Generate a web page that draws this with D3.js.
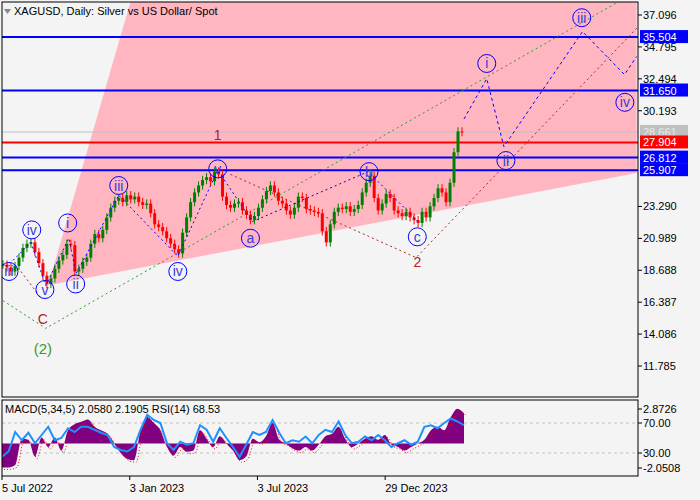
<!DOCTYPE html>
<html><head><meta charset="utf-8">
<script src="https://cdn.jsdelivr.net/npm/d3@7"></script>
<style>body{margin:0;background:#f4f4f4}svg{display:block;font-family:"Liberation Sans",Arial,sans-serif}</style>
</head><body><svg id="c" width="700" height="500"></svg>
<script>
// ---- data ----
const closes=[19.1,18.9,18.6,19.0,19.6,20.3,20.6,20.7,20.0,19.2,18.3,17.7,18.1,18.8,19.4,19.8,20.6,20.5,18.6,18.8,19.3,19.6,20.6,21.3,21.0,21.6,22.5,23.2,23.7,23.9,23.6,24.1,23.8,24.0,23.6,23.4,23.5,22.8,22.0,21.8,21.5,21.0,20.6,20.2,19.9,21.4,22.5,23.6,24.3,24.8,25.2,25.4,25.1,25.8,25.6,24.0,23.4,23.2,23.5,23.6,23.0,22.7,22.3,22.6,23.2,23.8,24.4,24.8,24.3,23.7,23.5,23.0,22.7,23.2,24.0,23.9,23.1,23.0,22.9,22.8,21.5,20.7,22.0,22.9,23.2,23.1,23.3,22.9,23.1,23.4,24.3,25.0,25.5,23.9,23.0,23.5,24.2,23.9,23.0,22.8,22.6,22.9,22.5,22.3,22.1,22.9,22.5,23.3,23.9,24.6,24.3,23.6,25.0,27.2,28.7,28.66];
const macd=[-2.0,-2.0,-1.8,0.4,0.3,-1.1,0.5,-0.3,0.5,-0.6,1.1,1.6,1.8,2.0,1.4,1.1,0.8,0,-0.8,-1.3,-1.4,1.1,2.2,1.7,1.1,-0.3,-1.0,-0.3,-0.7,-0.6,1.1,0.4,-0.3,0.6,0,-0.6,-1.4,-1.1,0.4,0.1,0.6,1.7,0.3,0,-0.4,-0.6,-0.3,-0.6,-0.1,0.6,0.8,1.4,0.4,-0.3,0,0.4,0.6,0.3,0.7,-0.1,-0.3,-0.6,-0.3,0,0.3,1.1,1.4,1.1,2.2,2.9,2.5];
const rsi=[25,32,58,47,57,43,54,65,47,50,63,58,65,65,61,57,54,38,34,32,38,61,81,74,70,43,34,45,41,43,67,61,45,63,50,38,25,41,58,54,58,74,57,43,47,45,52,43,54,61,58,72,54,43,45,52,47,54,47,38,43,47,41,45,65,67,63,70,76,72,67];
const priceTicks=[37.096,34.795,32.494,30.193,23.290,20.989,18.688,16.387,14.086,11.785];
const levels=[{v:35.504,c:"#0000ff",t:"35.504"},{v:31.650,c:"#0000ff",t:"31.650"},{v:28.661,c:"#c0c0c0",t:"28.661",g:1},{v:27.904,c:"#ff0000",t:"27.904"},{v:26.812,c:"#0000ff",t:"26.812"},{v:25.907,c:"#0000ff",t:"25.907"}];
const dateLabels=[{i:0,t:"5 Jul 2022"},{i:32,t:"3 Jan 2023"},{i:64,t:"3 Jul 2023"},{i:96,t:"29 Dec 2023"}];
const pinkZone=[[11.3,17.6],[32,38.1],[158.75,38.1],[158.75,25.7]];
const blueWave=[[2.5,19.4],[7,20.7],[10.7,17.6],[16.5,21.0],[18.3,18.45],[29,24.1],[43.8,19.7],[53.8,25.9],[62.5,22.2],[91.5,25.8],[104,22.2]];
const brownWave1=[[4.5,18.6],[9.5,16.7]];
const brownWave2=[[57,25.6],[103.5,19.6],[162,37.1]];
const greenWave=[[0,16.5],[10.7,14.5],[154.5,38.1]];
const forecast=[[115.5,29.6],[121.2,32.5],[125.5,27.6],[145.2,35.9],[155.7,32.8],[158.75,34.1]];
const circles=[[1.5,18.6,"iii"],[7.2,21.6,"iv"],[16.2,22.1,"i"],[10.5,17.3,"v"],[18.2,17.7,"ii"],[29,24.8,"iii"],[43.8,18.6,"iv"],[53.8,26.0,"v"],[62,21.0,"a"],[91.7,25.8,"b"],[103.8,21.1,"c"],[121.2,33.6,"i"],[126,26.6,"ii"],[145,36.9,"iii"],[155.8,30.8,"iv"]];
const brownLabels=[[53.8,28.1,"1"],[103.8,18.9,"2"],[10,14.8,"C"]];

// ---- scales ----
const svg=d3.select("#c");
const x=d3.scaleLinear().domain([0,closes.length-1]).range([3,462]);
const y=d3.scaleLinear().domain([11.785,37.096]).range([366,15]);
const xi=d3.scaleLinear().domain([0,macd.length-1]).range([2,464]);
const ym=d3.scaleLinear().domain([-2.0508,2.8726]).range([468,409]);
const yr=d3.scaleLinear().domain([30,70]).range([453,423]);
const L=2,R=638,T=2,B=397;

svg.append("rect").attr("width",700).attr("height",500).attr("fill","#f4f4f4");
svg.append("clipPath").attr("id","cp").append("rect").attr("x",L).attr("y",T).attr("width",R-L).attr("height",B-T);
const g=svg.append("g").attr("clip-path","url(#cp)");
g.append("path").attr("d",d3.line().x(d=>x(d[0])).y(d=>y(d[1]))(pinkZone)+"Z").attr("fill","#ffb6c1");
levels.forEach(l=>g.append("line").attr("x1",L).attr("x2",R).attr("y1",y(l.v)).attr("y2",y(l.v)).attr("stroke",l.c).attr("stroke-width",l.g?1:2));
closes.forEach((c,i)=>{
  const o=i?closes[i-1]:c, up=c>=o, col=up?"#008000":"#ff0000";
  const hi=Math.max(o,c)+0.3, lo=Math.min(o,c)-0.3;
  g.append("line").attr("x1",x(i)).attr("x2",x(i)).attr("y1",y(hi)).attr("y2",y(lo)).attr("stroke",col);
  g.append("rect").attr("x",x(i)-1.5).attr("width",3).attr("y",y(Math.max(o,c))).attr("height",Math.max(1,Math.abs(y(o)-y(c)))).attr("fill",col);
});
const ln=d3.line().x(d=>x(d[0])).y(d=>y(d[1]));
g.append("path").attr("d",ln(greenWave)).attr("fill","none").attr("stroke","#2e9a2e").attr("stroke-dasharray","2,3");
g.append("path").attr("d",ln(brownWave1)).attr("fill","none").attr("stroke","#a52a2a").attr("stroke-dasharray","2,3");
g.append("path").attr("d",ln(brownWave2)).attr("fill","none").attr("stroke","#a52a2a").attr("stroke-dasharray","2,3");
g.append("path").attr("d",ln(blueWave)).attr("fill","none").attr("stroke","#0000ff").attr("stroke-dasharray","2,3");
g.append("path").attr("d",ln(forecast)).attr("fill","none").attr("stroke","#0000ff").attr("stroke-dasharray","3,3");
circles.forEach(c=>{
  g.append("circle").attr("cx",x(c[0])).attr("cy",y(c[1])).attr("r",9).attr("fill","none").attr("stroke","#0000ff");
  g.append("text").attr("x",x(c[0])).attr("y",y(c[1])+5).attr("text-anchor","middle").attr("font-size",14).attr("fill","#3c3cd8").text(c[2]);
});
brownLabels.forEach(c=>g.append("text").attr("x",x(c[0])).attr("y",y(c[1])).attr("text-anchor","middle").attr("font-size",14).attr("fill","#b22222").text(c[2]));
g.append("text").attr("x",x(10)).attr("y",354).attr("text-anchor","middle").attr("font-size",15).attr("fill","#3a9a2a").text("(2)");
g.append("text").attr("x",14).attr("y",15).attr("font-size",11).attr("fill","#000").text("XAGUSD, Daily:  Silver vs US Dollar/ Spot");
g.append("path").attr("d","M4,9 L11,9 L7.5,14Z").attr("fill","#888");
svg.append("rect").attr("x",L).attr("y",T).attr("width",R-L).attr("height",B-T).attr("fill","none").attr("stroke","#000");
priceTicks.forEach(v=>{svg.append("line").attr("x1",R).attr("x2",R+4).attr("y1",y(v)).attr("y2",y(v)).attr("stroke","#000");
  svg.append("text").attr("x",R+5).attr("y",y(v)+4).attr("font-size",11).text(v.toFixed(3));});
levels.forEach(l=>{svg.append("rect").attr("x",R+2).attr("y",y(l.v)-7).attr("width",48).attr("height",13).attr("fill",l.c);
  svg.append("text").attr("x",R+5).attr("y",y(l.v)+4).attr("font-size",11).attr("fill",l.g?"#e8e8e8":"#fff").text(l.t);});
const P1=400,P2=476;
svg.append("line").attr("x1",L).attr("x2",R).attr("y1",yr(70)).attr("y2",yr(70)).attr("stroke","#c0c0c0").attr("stroke-dasharray","3,3");
svg.append("line").attr("x1",L).attr("x2",R).attr("y1",yr(30)).attr("y2",yr(30)).attr("stroke","#c0c0c0").attr("stroke-dasharray","3,3");
svg.append("path").attr("d",d3.area().x((d,i)=>xi(i)).y0(ym(0)).y1(d=>ym(d)).curve(d3.curveMonotoneX)(macd)).attr("fill","#800080");
svg.append("path").attr("d",d3.line().x((d,i)=>xi(i)+2).y(d=>ym(d)+2).curve(d3.curveMonotoneX)(macd)).attr("fill","none").attr("stroke","#ff0000").attr("stroke-dasharray","1,2");
svg.append("path").attr("d",d3.line().x((d,i)=>xi(i)).y(d=>yr(d))(rsi)).attr("fill","none").attr("stroke","#1e90ff").attr("stroke-width",2);
svg.append("rect").attr("x",L).attr("y",P1).attr("width",R-L).attr("height",P2-P1).attr("fill","none").attr("stroke","#000");
svg.append("text").attr("x",5).attr("y",413).attr("font-size",11).text("MACD(5,34,5) 2.0580 2.1905 RSI(14) 68.53");
[[ym(2.8726),"2.8726"],[yr(70),"70.00"],[yr(30),"30.00"],[ym(-2.0508),"-2.0508"]].forEach(d=>{
  svg.append("line").attr("x1",R).attr("x2",R+4).attr("y1",d[0]).attr("y2",d[0]).attr("stroke","#000");
  svg.append("text").attr("x",R+5).attr("y",d[0]+4).attr("font-size",11).text(d[1]);});
dateLabels.forEach(d=>{const xx=x(d.i)-1;
  svg.append("line").attr("x1",xx).attr("x2",xx).attr("y1",P2).attr("y2",P2+4).attr("stroke","#000");
  svg.append("text").attr("x",xx).attr("y",492).attr("font-size",11).text(d.t);});
</script></body></html>
